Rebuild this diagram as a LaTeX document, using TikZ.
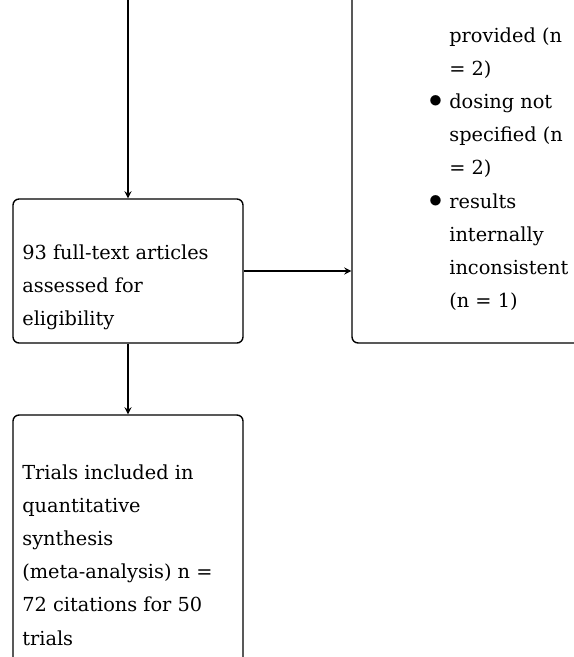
\documentclass[tikz,border=0pt]{standalone}
\usepackage{fontspec}
\setmainfont{DejaVu Serif}
\usepackage{graphicx}
\usepackage{tikz}
\usetikzlibrary{arrows}
\tikzstyle{stage} = [rectangle, rounded corners=0.12cm, draw=black, thick, minimum width=4.6cm]
\tikzstyle{txt} = [align=left, inner sep=0pt, font=\fontsize{11}{18.9}\selectfont]
\tikzstyle{arrow} = [thick,->,>=stealth]
\newcommand{\itm}{\llap{\raisebox{0.1ex}{\scalebox{1.4}{$\bullet$}}\hspace{4pt}}}

\begin{document}
\begin{tikzpicture}[x=0.02cm, y=-0.02cm]
\useasboundingbox (0,0) rectangle (574,657);
\clip (0,0) rectangle (574,657);

\coordinate (top) at (128,-2);
\node (assessed) [stage, minimum height=2.88cm] at (128,271) {};
\node (included) [stage, minimum height=6cm] at (128,565) {};
\node (excluded) [stage, minimum width=6.96cm, minimum height=8.86cm] at (526,121.5) {};

\node (assessedtxt) [txt, anchor=north west] at (22,244) {93 full-text articles\\assessed for\\eligibility};
\node (includedtxt) [txt, anchor=north west] at (22,464) {Trials included in\\quantitative\\synthesis\\(meta-analysis) n =\\72 citations for 50\\trials};
\node (excludedtxt) [txt, anchor=north west] at (449,27) {provided (n\\= 2)\\\itm dosing not\\specified (n\\= 2)\\\itm results\\internally\\inconsistent\\(n = 1)};

\draw [arrow] (top) -- (assessed);
\draw [arrow] (assessed) -- (included);
\draw [arrow] (assessed.east) -- (assessed.east -| excluded.west);
\end{tikzpicture}
\end{document}
